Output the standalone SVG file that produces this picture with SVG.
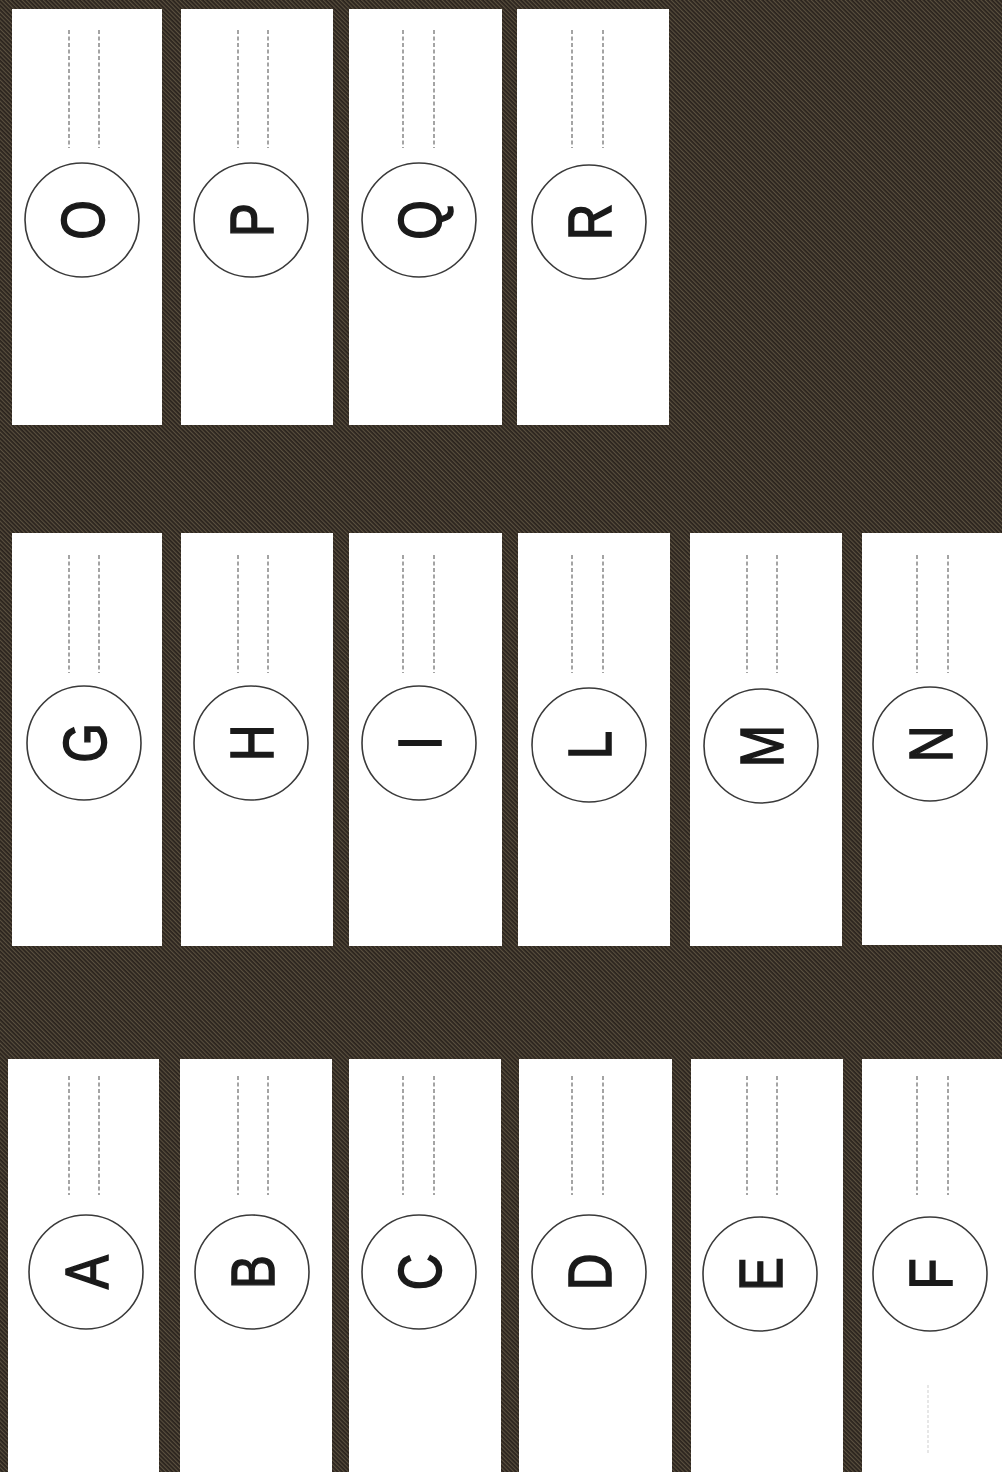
<svg xmlns="http://www.w3.org/2000/svg" width="1002" height="1472" viewBox="0 0 1002 1472">
<defs>
<pattern id="hatch" width="3" height="3" patternUnits="userSpaceOnUse" patternTransform="rotate(-45)">
<rect width="3" height="3" fill="#2a231d"/>
<rect width="1.2" height="3" fill="#5a503f"/>
</pattern>
</defs>
<style>
.card{fill:#ffffff}
.ring{fill:none;stroke:#3a3a3a;stroke-width:1.6}
.dash{stroke:#959595;stroke-width:1.7;stroke-dasharray:4 2.5;fill:none}
.faint{stroke:#d8d8d8;stroke-width:1.2;stroke-dasharray:3 2;fill:none}
.lbl{font-family:"Liberation Sans",Arial,sans-serif;font-size:62px;fill:#1a1a1a;stroke:#1a1a1a;stroke-width:1.6;text-anchor:middle}
</style>
<rect id="background" x="0" y="0" width="1002" height="1472" fill="url(#hatch)"/>

<g id="connectors"></g>

<!-- top row -->
<g id="node-O">
<rect class="card" x="12" y="9" width="150" height="416"/>
<path class="dash" d="M69 30V148M99 30V148"/>
<circle class="ring" cx="82" cy="220" r="57"/>
<text class="lbl" transform="translate(82,220) rotate(-90) scale(0.82,1)" y="22">O</text>
</g>
<g id="node-P">
<rect class="card" x="181" y="9" width="152" height="416"/>
<path class="dash" d="M238 30V148M268 30V148"/>
<circle class="ring" cx="251" cy="220" r="57"/>
<text class="lbl" transform="translate(251,220) rotate(-90) scale(0.82,1)" y="22">P</text>
</g>
<g id="node-Q">
<rect class="card" x="349" y="9" width="153" height="416"/>
<path class="dash" d="M403 30V148M434 30V148"/>
<circle class="ring" cx="419" cy="220" r="57"/>
<text class="lbl" transform="translate(419,220) rotate(-90) scale(0.82,1)" y="22">Q</text>
</g>
<g id="node-R">
<rect class="card" x="517" y="9" width="152" height="416"/>
<path class="dash" d="M572 30V148M603 30V148"/>
<circle class="ring" cx="589" cy="222" r="57"/>
<text class="lbl" transform="translate(589,222) rotate(-90) scale(0.82,1)" y="22">R</text>
</g>

<!-- middle row -->
<g id="node-G">
<rect class="card" x="12" y="533" width="150" height="413"/>
<path class="dash" d="M69 555V673M99 555V673"/>
<circle class="ring" cx="84" cy="743" r="57"/>
<text class="lbl" transform="translate(84,743) rotate(-90) scale(0.82,1)" y="22">G</text>
</g>
<g id="node-H">
<rect class="card" x="181" y="533" width="152" height="413"/>
<path class="dash" d="M238 555V673M268 555V673"/>
<circle class="ring" cx="251" cy="743" r="57"/>
<text class="lbl" transform="translate(251,743) rotate(-90) scale(0.82,1)" y="22">H</text>
</g>
<g id="node-I">
<rect class="card" x="349" y="533" width="153" height="413"/>
<path class="dash" d="M403 555V673M434 555V673"/>
<circle class="ring" cx="419" cy="743" r="57"/>
<text class="lbl" transform="translate(419,743) rotate(-90) scale(0.82,1)" y="22">I</text>
</g>
<g id="node-L">
<rect class="card" x="518" y="533" width="152" height="413"/>
<path class="dash" d="M572 555V673M603 555V673"/>
<circle class="ring" cx="589" cy="745" r="57"/>
<text class="lbl" transform="translate(589,745) rotate(-90) scale(0.82,1)" y="22">L</text>
</g>
<g id="node-M">
<rect class="card" x="690" y="533" width="152" height="413"/>
<path class="dash" d="M747 555V673M777 555V673"/>
<circle class="ring" cx="761" cy="746" r="57"/>
<text class="lbl" transform="translate(761,746) rotate(-90) scale(0.82,1)" y="22">M</text>
</g>
<g id="node-N">
<rect class="card" x="862" y="533" width="140" height="412"/>
<path class="dash" d="M917 555V673M948 555V673"/>
<circle class="ring" cx="930" cy="744" r="57"/>
<text class="lbl" transform="translate(930,744) rotate(-90) scale(0.82,1)" y="22">N</text>
</g>

<!-- bottom row -->
<g id="node-A">
<rect class="card" x="8" y="1059" width="151" height="413"/>
<path class="dash" d="M69 1076V1195M99 1076V1195"/>
<circle class="ring" cx="86" cy="1272" r="57"/>
<text class="lbl" transform="translate(86,1272) rotate(-90) scale(0.82,1)" y="22">A</text>
</g>
<g id="node-B">
<rect class="card" x="180" y="1059" width="152" height="413"/>
<path class="dash" d="M238 1076V1195M268 1076V1195"/>
<circle class="ring" cx="252" cy="1272" r="57"/>
<text class="lbl" transform="translate(252,1272) rotate(-90) scale(0.82,1)" y="22">B</text>
</g>
<g id="node-C">
<rect class="card" x="349" y="1059" width="152" height="413"/>
<path class="dash" d="M403 1076V1195M434 1076V1195"/>
<circle class="ring" cx="419" cy="1272" r="57"/>
<text class="lbl" transform="translate(419,1272) rotate(-90) scale(0.82,1)" y="22">C</text>
</g>
<g id="node-D">
<rect class="card" x="519" y="1059" width="153" height="413"/>
<path class="dash" d="M572 1076V1195M603 1076V1195"/>
<circle class="ring" cx="589" cy="1272" r="57"/>
<text class="lbl" transform="translate(589,1272) rotate(-90) scale(0.82,1)" y="22">D</text>
</g>
<g id="node-E">
<rect class="card" x="691" y="1059" width="152" height="413"/>
<path class="dash" d="M747 1076V1195M777 1076V1195"/>
<circle class="ring" cx="760" cy="1274" r="57"/>
<text class="lbl" transform="translate(760,1274) rotate(-90) scale(0.82,1)" y="22">E</text>
</g>
<g id="node-F">
<rect class="card" x="862" y="1059" width="140" height="413"/>
<path class="dash" d="M917 1076V1195M948 1076V1195"/>
<circle class="ring" cx="930" cy="1274" r="57"/>
<text class="lbl" transform="translate(930,1274) rotate(-90) scale(0.82,1)" y="22">F</text>
<path class="faint" d="M928 1385V1455"/>
</g>
</svg>
